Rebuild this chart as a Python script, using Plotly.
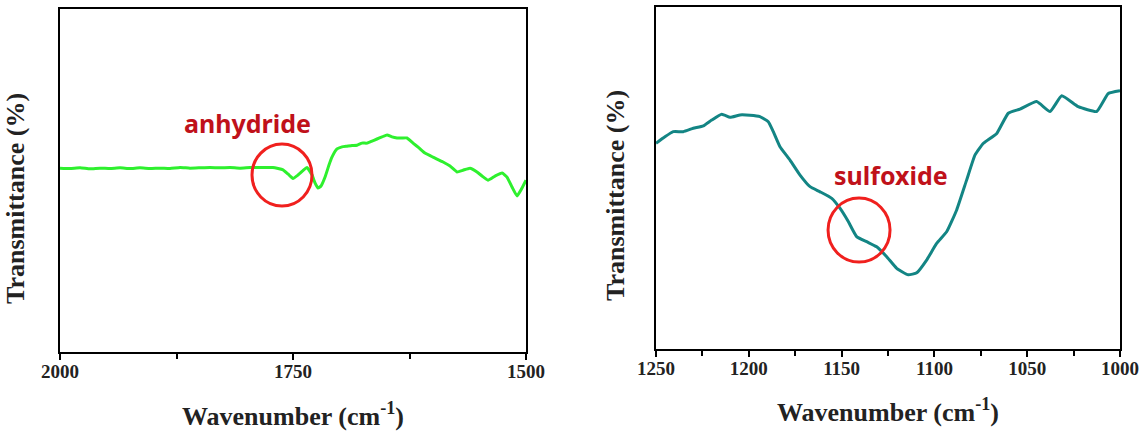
import plotly.graph_objects as go

# ---- Left panel: anhydride region (wavenumber, transmittance a.u.) ----
wn_left = [2000, 1989.3, 1978.5, 1967.8, 1957.1, 1946.3, 1935.6, 1924.9, 1914.2, 1903.4,
           1892.7, 1882.0, 1871.2, 1860.5, 1849.8, 1839.1, 1828.3, 1817.6, 1806.9, 1796.1,
           1785.4, 1771.5, 1760.7, 1755.4, 1750.0, 1744.6, 1739.3, 1735.0, 1729.6, 1726.4,
           1723.2, 1719.9, 1715.6, 1711.4, 1708.2, 1702.8, 1697.4, 1692.1, 1686.7, 1681.3,
           1676.0, 1670.6, 1665.2, 1659.9, 1654.5, 1649.1, 1643.8, 1638.4, 1633.0, 1627.7,
           1621.2, 1614.8, 1608.4, 1599.8, 1589.0, 1581.5, 1574.0, 1567.6, 1560.1, 1552.6,
           1547.2, 1540.8, 1533.2, 1525.7, 1520.4, 1515.0, 1509.6, 1504.3, 1500.0]
t_left = [53.6, 53.5, 53.7, 53.4, 53.6, 53.5, 53.7, 53.5, 53.7, 53.5,
          53.6, 53.5, 53.8, 53.6, 53.7, 53.8, 53.7, 53.8, 53.6, 53.8,
          53.8, 53.8, 53.1, 51.9, 50.6, 51.6, 52.9, 53.8, 51.6, 49.3,
          47.8, 48.4, 51.0, 54.5, 56.8, 59.2, 59.8, 60.0, 60.2, 60.3,
          60.9, 60.9, 61.5, 62.1, 62.7, 63.3, 62.7, 62.4, 62.4, 62.4,
          60.9, 59.5, 58.0, 56.8, 55.4, 54.2, 52.5, 53.0, 53.6, 52.5,
          51.3, 50.1, 51.3, 52.2, 51.0, 48.1, 45.5, 47.8, 50.1]

# ---- Right panel: sulfoxide region ----
wn_right = [1250, 1245.2, 1240.7, 1235.3, 1229.9, 1224.5, 1220.0, 1214.6, 1210.1, 1204.7,
            1199.4, 1194.0, 1189.5, 1186.8, 1183.2, 1177.8, 1172.4, 1167.0, 1161.6, 1155.3,
            1150.9, 1146.4, 1141.9, 1136.5, 1131.1, 1125.7, 1120.3, 1114.1, 1109.5, 1104.1,
            1098.8, 1093.4, 1088.0, 1082.6, 1078.1, 1073.6, 1066.4, 1060.2, 1053.9, 1044.9,
            1037.7, 1031.4, 1022.5, 1012.6, 1006.3, 1000]
t_right = [60.2, 62.1, 63.6, 63.6, 64.6, 65.3, 67.0, 68.7, 67.8, 68.5,
           68.4, 68.0, 66.5, 63.6, 59.2, 55.3, 50.9, 47.5, 46.0, 44.1,
           41.2, 37.3, 32.9, 31.4, 29.9, 27.0, 23.6, 21.7, 22.3, 26.1,
           30.9, 34.3, 40.7, 49.5, 56.8, 60.2, 63.1, 69.0, 70.2, 72.4,
           69.5, 74.1, 70.9, 69.5, 74.8, 75.6]

left_ticks = [2000, 1750, 1500]
right_ticks = [1250, 1200, 1150, 1100, 1050, 1000]

left_label = "anhydride"
right_label = "sulfoxide"
left_mark = (1761.8, 51.6)    # circle centre (wavenumber, transmittance)
right_mark = (1140.6, 34.8)
left_text_pos = (1799.3, 66.8)
right_text_pos = (1123.4, 50.9)

SERIF = "Liberation Serif, Times New Roman, serif"
SANS = "Noto Sans, Open Sans, sans-serif"

fig = go.Figure()
fig.add_trace(go.Scatter(x=wn_left, y=t_left, mode="lines",
                         line=dict(color="#2EF02E", width=3, shape="spline", smoothing=0.4),
                         xaxis="x", yaxis="y", showlegend=False, hoverinfo="skip"))
fig.add_trace(go.Scatter(x=wn_right, y=t_right, mode="lines",
                         line=dict(color="#138584", width=3, shape="spline", smoothing=0.4),
                         xaxis="x2", yaxis="y2", showlegend=False, hoverinfo="skip"))

axis_common = dict(showline=True, linecolor="black", linewidth=2, mirror=True,
                   showgrid=False, zeroline=False, automargin=False)

fig.update_layout(
    template="none",
    width=1144, height=432,
    margin=dict(l=0, r=0, t=0, b=0, pad=0),
    paper_bgcolor="white", plot_bgcolor="white",
    xaxis=dict(domain=[60/1144, 526/1144], range=[2000, 1500], anchor="y",
               tickmode="array", tickvals=left_ticks, ticktext=[str(v) for v in left_ticks],
               ticks="outside", ticklen=6, tickwidth=2, tickcolor="black",
               ticklabelstandoff=-5,
               minor=dict(dtick=125, tick0=2000, ticks="outside", ticklen=5, tickwidth=2, tickcolor="black"),
               tickfont=dict(family=SERIF, size=19, color="#222", weight="bold"),
               **axis_common),
    yaxis=dict(domain=[80/432, 423/432], range=[0, 100], anchor="x",
               showticklabels=False, ticks="", **axis_common),
    xaxis2=dict(domain=[656/1144, 1120/1144], range=[1250, 1000], anchor="y2",
                tickmode="array", tickvals=right_ticks, ticktext=[str(v) for v in right_ticks],
                ticks="outside", ticklen=6, tickwidth=2, tickcolor="black",
                ticklabelstandoff=-5,
                minor=dict(dtick=25, tick0=1000, ticks="outside", ticklen=5, tickwidth=2, tickcolor="black"),
                tickfont=dict(family=SERIF, size=19, color="#222", weight="bold"),
                **axis_common),
    yaxis2=dict(domain=[83/432, 424.7/432], range=[0, 100], anchor="x2",
                showticklabels=False, ticks="", **axis_common),
)

# circles (pixel-sized, anchored at data points)
for xr, yr, (cx, cy), r in [("x", "y", left_mark, 30), ("x2", "y2", right_mark, 31)]:
    fig.add_shape(type="circle", xref=xr, yref=yr, xsizemode="pixel", ysizemode="pixel",
                  xanchor=cx, yanchor=cy, x0=-r, x1=r, y0=-r - 1, y1=r + 1,
                  line=dict(color="#F0201E", width=3))

# annotation labels
fig.add_annotation(x=left_text_pos[0], y=left_text_pos[1], xref="x", yref="y",
                   text=f"<b>{left_label}</b>", showarrow=False,
                   xanchor="center", yanchor="middle",
                   font=dict(family=SANS, size=25, color="#C0111A"))
fig.add_annotation(x=right_text_pos[0], y=right_text_pos[1], xref="x2", yref="y2",
                   text=f"<b>{right_label}</b>", showarrow=False,
                   xanchor="center", yanchor="middle",
                   font=dict(family=SANS, size=25, color="#C0111A"))

# axis titles as paper annotations
title_font = dict(family=SERIF, size=26, color="#222", weight="bold")
for x, y, ang, txt in [(293, 414, 0, "Wavenumber (cm<sup>-1</sup>)"),
                       (888, 410, 0, "Wavenumber (cm<sup>-1</sup>)"),
                       (15, 199, -90, "Transmittance (%)"),
                       (615, 196, -90, "Transmittance (%)")]:
    fig.add_annotation(x=x/1144, y=1 - y/432, xref="paper", yref="paper",
                       xanchor="center", yanchor="middle", textangle=ang,
                       text=txt, showarrow=False, font=title_font)

fig.write_html("out.html", config={"displayModeBar": False})
